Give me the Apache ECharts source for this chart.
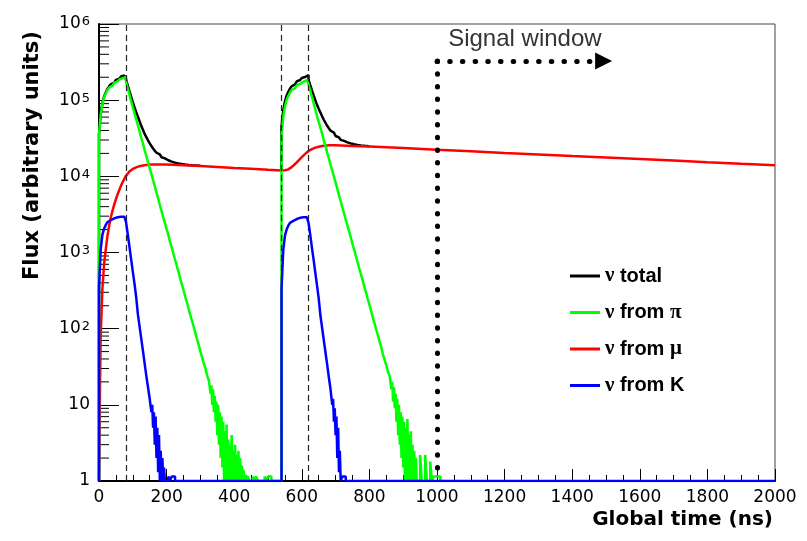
<!DOCTYPE html>
<html>
<head>
<meta charset="utf-8">
<script src="https://cdn.jsdelivr.net/npm/echarts@6.0.0/dist/echarts.min.js"></script>
<style>
  html, body { margin: 0; padding: 0; background: #fff; }
  #chart { width: 807px; height: 541px; }
</style>
</head>
<body>
<div id="chart"></div>
<script>
// ---------------- data ----------------
const binWidth = 5;     // ns between consecutive values in smooth parts
const fineBin = 2.5;    // ns between consecutive values in the noisy tails
const bunchEdges = [80, 540, 620];      // dashed vertical lines (ns)
const xTicks = [0, 200, 400, 600, 800, 1000, 1200, 1400, 1600, 1800, 2000];
const yDecades = [1, 10, 100, 1000, 10000, 100000, 1000000];

// nu from pi, first bunch: t = 0 .. 325 (step 5)
const piBunch1 = [
  1, 35000, 65000, 88000, 108000, 122000, 136000, 146000, 155000, 163000,
  170000, 176000, 182000, 187000, 193000, 198000, 203000, 173000, 143000, 118000,
  98000, 81000, 67000, 56000, 47000, 39000, 32000, 27000, 22000, 18500,
  15300, 12800, 10700, 8900, 7400, 6100, 5100, 4200, 3500, 2900,
  2450, 2030, 1700, 1400, 1170, 970, 810, 670, 560, 460,
  385, 320, 265, 222, 184, 152, 127, 106, 88, 73,
  61, 50, 42, 35, 30, 24
];
// t = 330 .. 440 (step 2.5)
const piNoise1 = [
  21, 14, 18, 10, 16, 8, 13, 6, 11, 4,
  10, 3, 8, 2, 7, 1.5, 6, 1, 4.5, 1,
  5.5, 1, 3.5, 1, 3, 1, 4, 1, 2.5, 1,
  3, 1, 2.2, 1, 2.5, 1, 2, 1, 1.6, 1,
  1.4, 1, 1, 1.2, 1
];
// t = 445 .. 535 (step 5)
const piTail1 = [1.15, 1, 1, 1.15, 1, 1.15, 1, 1, 1, 1, 1.15, 1, 1.15, 1.15, 1, 1, 1, 1, 1];

// nu from pi, second bunch: t = 540 .. 860 (step 5)
const piBunch2 = [
  1, 33000, 60000, 82000, 100000, 114000, 126000, 136000, 144000, 152000,
  158000, 164000, 169000, 174000, 179000, 184000, 189000, 161000, 133000, 110000,
  91000, 75000, 62000, 52000, 43700, 36300, 29800, 25100, 20500, 17200,
  14200, 11900, 9950, 8280, 6880, 5670, 4740, 3900, 3250, 2700,
  2280, 1890, 1580, 1300, 1090, 900, 750, 620, 520, 430,
  358, 298, 246, 206, 171, 141, 118, 98, 82, 68,
  57, 46, 39, 33, 27
];
// t = 865 .. 945 (step 2.5)
const piNoise2 = [
  24, 16, 20, 11, 17, 9, 14, 6, 12, 4,
  10, 3, 8, 2, 7, 1.5, 6, 1, 5, 1,
  6.5, 1, 4, 1, 4.5, 1, 3, 1, 2.5, 1,
  2, 1, 1
];
// t = 950 .. 1020 (step 5)
const piTail2 = [1, 2.2, 1, 1, 2.2, 1, 1, 1.8, 1, 1.15, 1.15, 1.15, 1.15, 1, 1];

// nu from K, first bunch: t = 0 .. 150 (step 5)
const kBunch1 = [
  1, 350, 1100, 1700, 2050, 2300, 2500, 2650, 2750, 2800,
  2850, 2900, 2900, 2950, 2950, 2950, 2950, 2500, 1750, 1200,
  820, 560, 390, 260, 155, 107, 74, 51, 35, 24,
  17
];
// t = 155 .. 200 (step 2.5)
const kNoise1 = [12, 8, 10, 5, 8, 3, 7, 2, 5, 1.3, 4, 1, 2.5, 1, 2, 1, 1.5, 1, 1];
// t = 205 .. 235 (step 5)
const kTail1 = [1, 1.15, 1, 1.15, 1.15, 1, 1];
// nu from K, second bunch: t = 540 .. 690 (step 5)
const kBunch2 = [
  1, 330, 1050, 1650, 2000, 2250, 2450, 2600, 2700, 2750,
  2800, 2850, 2850, 2900, 2900, 2900, 2900, 2450, 1700, 1150,
  800, 540, 370, 250, 150, 103, 71, 49, 34, 23,
  16
];
// t = 692.5 .. 720 (step 2.5)
const kNoise2 = [10, 12, 6, 9, 4, 7, 2, 5, 1.3, 2.5, 1, 1];
// t = 725 .. 735 (step 5)
const kTail2 = [1.15, 1.15, 1];
const kEnd = [[2000, 1]];

// nu total, first bunch: t = 0 .. 300 (step 5)
const totalBunch1 = [
  1, 35500, 66400, 90400, 111200, 126000, 140800, 151600, 161300, 170000,
  177900, 184700, 191500, 197400, 204300, 210300, 216000, 186400, 156000, 131300,
  111300, 94400, 80500, 69600, 60800, 52900, 46000, 41000, 36100, 32700,
  29600, 27100, 25000, 23200, 21700, 20400, 19400, 18500, 17800, 17200,
  16700, 16250, 15900, 15580, 15320, 15100, 14910, 14750, 14610, 14490,
  14390, 14290, 14210, 14130, 14060, 14000, 13950, 13900, 13850, 13800,
  13760
];
// nu total, second bunch: t = 540 .. 800 (step 5)
const totalBunch2 = [
  11900, 45230, 73050, 95750, 114350, 128950, 141650, 152400, 161200, 170050,
  176900, 183850, 189750, 195700, 201600, 207500, 213400, 185600, 157500, 134450,
  115600, 99690, 86870, 77000, 68850, 61550, 55170, 50550, 46030, 42740,
  39760, 37480, 35560, 33830, 32380, 31120, 30140, 29250, 28550, 27950,
  27480, 27040, 26680, 26350, 26090, 25850, 25650, 25470, 25320, 25180,
  25060, 24950, 24850
];
// nu from mu: [time ns, flux]
const muFlux = [
  [0, 1], [3, 17], [5, 80], [10, 330], [15, 700], [20, 1100], [25, 1650], [30, 2250],
  [35, 2900], [40, 3550], [45, 4250], [50, 5000], [55, 5800], [60, 6600], [65, 7500],
  [70, 8400], [75, 9300], [80, 10200], [90, 11600], [100, 12500], [110, 13100],
  [120, 13600], [130, 13900], [140, 14100], [150, 14250], [175, 14300], [200, 14250],
  [250, 14000], [300, 13700], [350, 13300], [400, 12900], [450, 12600], [500, 12200],
  [540, 11900], [545, 11900], [550, 12000], [555, 12100], [560, 12350], [565, 12700],
  [570, 13200], [575, 13800], [580, 14500], [585, 15300], [590, 16100], [595, 17000],
  [600, 17900], [605, 18800], [610, 19700], [615, 20600], [620, 21500], [630, 22800],
  [640, 23800], [650, 24500], [660, 25000], [670, 25300], [680, 25500], [700, 25600],
  [750, 25100], [800, 24600], [900, 23500], [1000, 22300], [1100, 21300], [1200, 20300],
  [1300, 19400], [1400, 18500], [1500, 17700], [1600, 16900], [1700, 16100],
  [1800, 15300], [1900, 14600], [2000, 14000]
];
// signal window annotation
const signalStart = 1000;
const signalBottom = 1.45;
const signalLevel = 327000;
const signalArrowEnd = 1493;
const signalText = 'Signal window';
const signalTextAt = [1260, 624000];

const seriesNames = ['ν total', 'ν from π', 'ν from μ', 'ν from K'];
const legendRich = {
  'ν total': '{nu|ν} {b|total}',
  'ν from π': '{nu|ν} {b|from} {g|π}',
  'ν from μ': '{nu|ν} {b|from} {g|μ}',
  'ν from K': '{nu|ν} {b|from K}'
};

// ---------------- build ----------------
function seg(start, step, values) {
  return values.map((v, i) => [start + i * step, v]);
}
const totalData = [].concat(
  seg(0, binWidth, totalBunch1), [[539, null]], seg(540, binWidth, totalBunch2));
const piData = [].concat(
  seg(0, binWidth, piBunch1), seg(330, fineBin, piNoise1), seg(445, binWidth, piTail1),
  seg(540, binWidth, piBunch2), seg(865, fineBin, piNoise2), seg(950, binWidth, piTail2));
const kData = [].concat(
  seg(0, binWidth, kBunch1), seg(155, fineBin, kNoise1), seg(205, binWidth, kTail1),
  seg(540, binWidth, kBunch2), seg(692.5, fineBin, kNoise2), seg(725, binWidth, kTail2), kEnd);

// minor ticks of the log axis: 2..9 x 10^k
const yMinorTicks = [];
for (let d = 0; d < yDecades.length - 1; d++) {
  for (let m = 2; m <= 9; m++) yMinorTicks.push([0, m * yDecades[d]]);
}

const chart = echarts.init(document.getElementById('chart'), null, { renderer: 'canvas' });

const lineCommon = {
  type: 'line', showSymbol: false, symbol: 'none', silent: true,
  animation: false, clip: true
};

const option = {
  animation: false,
  backgroundColor: '#fff',
  grid: { left: 99, right: 32, top: 24, bottom: 60, show: true, borderColor: '#444', borderWidth: 1 },
  xAxis: {
    type: 'value', min: xTicks[0], max: xTicks[xTicks.length - 1], interval: xTicks[1] - xTicks[0],
    name: 'Global time (ns)', nameLocation: 'end', nameGap: -2,
    nameTextStyle: { fontFamily: 'DejaVu Sans', fontWeight: 'bold', fontSize: 20, color: '#000',
      align: 'right', verticalAlign: 'top', padding: [29, 0, 0, 0] },
    axisLine: { show: true, lineStyle: { color: '#000', width: 2 } },
    axisTick: { show: true, inside: true, length: 12, lineStyle: { color: '#000', width: 1 } },
    minorTick: { show: true, splitNumber: 4, length: 6, lineStyle: { color: '#000', width: 1 } },
    axisLabel: { fontFamily: 'DejaVu Sans', fontSize: 17, color: '#000', margin: 8,
      formatter: function (v) { return String(v); } },
    splitLine: { show: false }
  },
  yAxis: {
    type: 'log', logBase: 10, min: yDecades[0], max: yDecades[yDecades.length - 1],
    axisLine: { show: true, lineStyle: { color: '#000', width: 2 } },
    axisTick: { show: true, inside: true, length: 20, lineStyle: { color: '#000', width: 1 } },
    axisLabel: {
      fontFamily: 'DejaVu Sans', fontSize: 17, color: '#000', margin: 9,
      formatter: function (v) {
        const k = Math.round(Math.log10(v));
        if (k === 0) return '1';
        if (k === 1) return '10';
        return '{b|10}{s|' + k + '}';
      },
      rich: {
        b: { fontFamily: 'DejaVu Sans', fontSize: 17, lineHeight: 17, color: '#000', verticalAlign: 'bottom' },
        s: { fontFamily: 'DejaVu Sans', fontSize: 13, lineHeight: 13, color: '#000', verticalAlign: 'top', padding: [0, 0, 13, 1] }
      }
    },
    splitLine: { show: false }
  },
  legend: {
    data: seriesNames, orient: 'vertical', left: 570, top: 265, padding: 0,
    itemWidth: 30, itemHeight: 3, itemGap: 14.5, icon: 'rect', selectedMode: false,
    formatter: function (name) { return legendRich[name]; },
    textStyle: {
      fontFamily: 'Liberation Sans', fontWeight: 'bold', fontSize: 20, lineHeight: 22, color: '#000',
      rich: {
        nu: { fontFamily: 'Liberation Serif', fontSize: 21, lineHeight: 22, color: '#000' },
        b: { fontFamily: 'Liberation Sans', fontWeight: 'bold', fontSize: 20, lineHeight: 22, color: '#000' },
        g: { fontFamily: 'Liberation Serif', fontSize: 21, lineHeight: 22, color: '#000' }
      }
    }
  },
  graphic: [{
    type: 'text', x: 33, y: 280, rotation: Math.PI / 2,
    style: { text: 'Flux (arbitrary units)', fontFamily: 'DejaVu Sans', fontWeight: 'bold', fontSize: 21,
      fill: '#000', align: 'left', verticalAlign: 'middle', textAlign: 'left', textVerticalAlign: 'middle' }
  }],
  series: [
    Object.assign({}, lineCommon, {
      name: seriesNames[0], data: totalData, step: 'start', color: '#000',
      lineStyle: { color: '#000', width: 2.5 }, z: 2,
      markLine: {
        silent: true, symbol: ['none', 'none'], label: { show: false }, animation: false,
        lineStyle: { type: [6, 4], color: '#222', width: 1.2 },
        data: bunchEdges.map(t => ({ xAxis: t }))
      }
    }),
    Object.assign({}, lineCommon, {
      name: seriesNames[2], data: muFlux, color: '#ff0000',
      lineStyle: { color: '#ff0000', width: 2.5 }, z: 3
    }),
    Object.assign({}, lineCommon, {
      name: seriesNames[1], data: piData, step: 'start', color: '#00ff00',
      lineStyle: { color: '#00ff00', width: 2.5 }, z: 4
    }),
    Object.assign({}, lineCommon, {
      name: seriesNames[3], data: kData, step: 'start', color: '#0000ff',
      lineStyle: { color: '#0000ff', width: 2.5 }, z: 5
    }),
    {
      type: 'line', name: 'signal', data: [], silent: true, z: 6, animation: false,
      markLine: {
        silent: true, animation: false, label: { show: false },
        lineStyle: { type: [0.5, 12.2], cap: 'round', color: '#000', width: 5 },
        data: [
          [{ coord: [signalStart, signalLevel], symbol: 'none' }, { coord: [signalStart, signalBottom], symbol: 'none' }],
          [{ coord: [signalStart, signalLevel], symbol: 'none' },
           { coord: [signalArrowEnd, signalLevel], symbol: 'triangle', symbolSize: 17 }]
        ]
      },
      markPoint: {
        silent: true, animation: false, symbol: 'circle', symbolSize: 0,
        label: { show: true, position: 'inside', formatter: '{b}', fontFamily: 'Liberation Sans',
          fontSize: 24, color: '#333338' },
        data: [{ name: signalText, coord: signalTextAt }]
      }
    },
    {
      type: 'custom', name: 'yMinorTicks', data: yMinorTicks, silent: true, z: 1,
      encode: { x: 0, y: 1 },
      renderItem: function (params, api) {
        const p = api.coord([api.value(0), api.value(1)]);
        return { type: 'line', shape: { x1: p[0], y1: p[1], x2: p[0] + 10, y2: p[1] },
          style: { stroke: '#000', lineWidth: 1 } };
      }
    }
  ]
};
chart.setOption(option);
</script>
</body>
</html>
